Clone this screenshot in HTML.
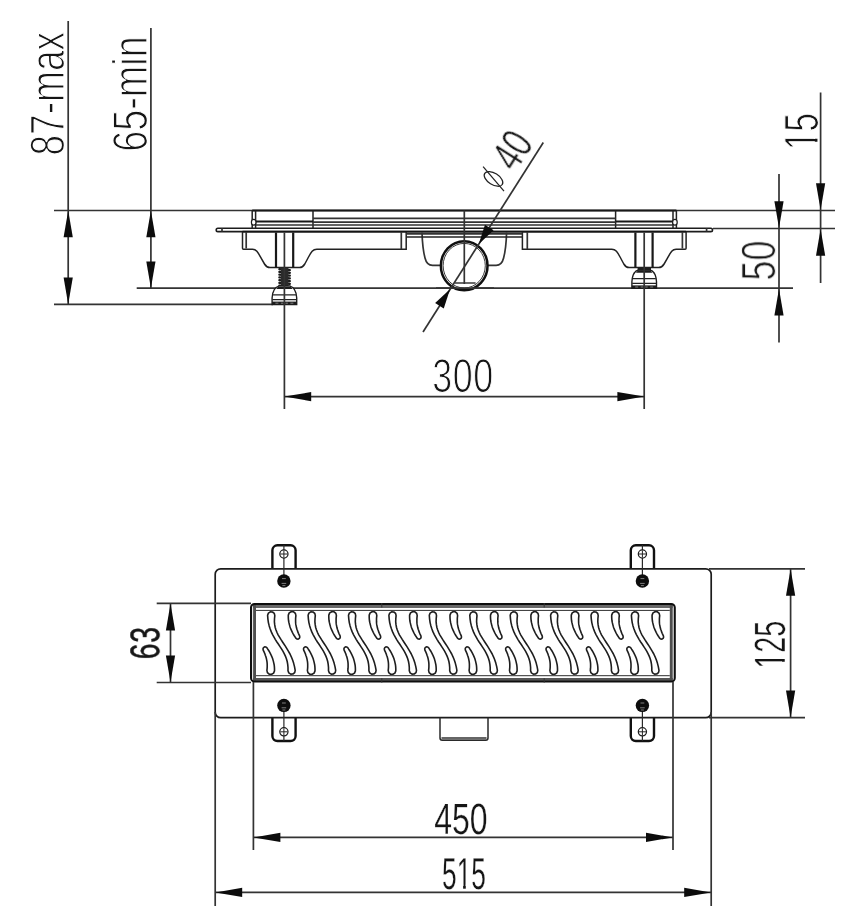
<!DOCTYPE html>
<html lang="en">
<head>
<meta charset="utf-8">
<title>Linear shower drain - dimensional drawing</title>
<style>
html,body{margin:0;padding:0;background:#fff;}
body{width:860px;height:918px;overflow:hidden;font-family:"Liberation Sans",sans-serif;}
svg{display:block;position:absolute;left:0;top:0;}
text{font-family:"Liberation Sans",sans-serif;fill:#151515;text-rendering:geometricPrecision;}
.t{stroke:#333;stroke-width:1.7;fill:none;}
.m{stroke:#222;stroke-width:1.5;fill:none;}
.k{stroke:#181818;stroke-width:2;fill:none;}
.ar{fill:#0c0c0c;}
.lt{stroke:#fff;stroke-linejoin:round;}
</style>
</head>
<body>
<svg width="860" height="918" viewBox="0 0 860 918">
<defs>
  <!-- arrow head: tip at origin, pointing up (body extends downward) -->
  <path id="ah" d="M0,0 L4.6,26.8 L-4.6,26.8 Z"/>
  <path id="ah2" d="M0,0 L5.1,19.7 L-5.1,19.7 Z"/>
  <!-- one period of the grate pattern -->
  <g id="per" transform="translate(271.3,0)">
    <path d="M3.6,615.6 L3.1,613.4 L1.3,612.0 L-0.9,611.9 L-2.8,613.1 L-3.6,615.2 L-3.3,619.1 L-2.8,622.6 L-2.0,625.9 L-1.0,629.0 L0.1,631.9 L1.4,634.6 L2.8,637.1 L4.2,639.6 L5.7,642.0 L7.3,644.3 L8.8,646.6 L10.3,648.9 L11.7,651.2 L13.0,653.6 L14.2,656.1 L15.2,658.7 L16.0,661.5 L16.5,664.4 L16.8,667.5 L16.8,670.8 L17.6,672.9 L19.5,674.1 L21.7,674.0 L23.5,672.6 L24.0,670.4 L23.3,666.6 L22.4,663.1 L21.3,659.8 L20.1,656.8 L18.8,654.0 L17.3,651.3 L15.8,648.8 L14.3,646.4 L12.7,644.0 L11.2,641.7 L9.7,639.4 L8.3,637.1 L6.9,634.8 L5.8,632.5 L4.8,630.0 L4.0,627.5 L3.5,624.7 L3.2,621.9 L3.3,618.8 L3.6,615.6Z"/>
    <path d="M24.7,615.7 L24.2,613.4 L22.4,611.8 L20.0,611.7 L18.0,612.9 L17.1,615.1 L17.1,617.1 L17.2,619.1 L17.4,621.0 L17.8,622.9 L18.2,624.6 L18.7,626.4 L19.2,628.0 L19.9,629.6 L20.6,631.2 L21.3,632.6 L22.1,634.1 L22.9,635.5 L23.8,636.8 L24.6,638.1 L25.6,639.0 L27.0,639.1 L28.1,638.4 L28.6,637.2 L28.4,635.9 L27.8,634.6 L27.2,633.3 L26.6,631.9 L26.2,630.5 L25.7,629.2 L25.3,627.8 L25.0,626.3 L24.7,624.9 L24.5,623.4 L24.4,621.9 L24.4,620.4 L24.4,618.9 L24.5,617.3 L24.7,615.7Z"/>
    <path d="M-4.3,670.3 L-3.8,672.6 L-2.0,674.2 L0.4,674.3 L2.4,673.1 L3.3,670.9 L3.3,668.9 L3.2,666.9 L3.0,665.0 L2.6,663.1 L2.2,661.4 L1.7,659.6 L1.2,658.0 L0.5,656.4 L-0.2,654.8 L-0.9,653.4 L-1.7,651.9 L-2.5,650.5 L-3.4,649.2 L-4.2,647.9 L-5.2,647.0 L-6.6,646.9 L-7.7,647.6 L-8.2,648.8 L-8.0,650.1 L-7.4,651.4 L-6.8,652.7 L-6.2,654.1 L-5.8,655.5 L-5.3,656.8 L-4.9,658.2 L-4.6,659.7 L-4.3,661.1 L-4.1,662.6 L-4.0,664.1 L-4.0,665.6 L-4.0,667.1 L-4.1,668.7 L-4.3,670.3Z"/>
  </g>
  <!-- levelling foot (side view), centred on x=0, bottom at y=0 -->
  <g id="foot">
    <path d="M-5.6,-18.4 L5.6,-18.4 C9.5,-17.4 12,-12.5 12.3,-6.5 L12.3,0 L-12.3,0 L-12.3,-6.5 C-12,-12.5 -9.5,-17.4 -5.6,-18.4 Z" fill="#fff" stroke="#1c1c1c" stroke-width="1.4"/>
    <path d="M-6.5,-17.6 L6.5,-17.6 L8.3,-15.6 L-8.3,-15.6 Z" fill="#1c1c1c"/>
    <path d="M-11.6,-9.6 H11.6 M-12,-4.9 H12" stroke="#222" stroke-width="1.2"/>
    <rect x="-12.3" y="-2.9" width="24.6" height="2.9" fill="#1c1c1c"/>
    <path d="M-9,-1.3 H-6 M-3.5,-1.3 H-1 M1,-1.3 H3.5 M6,-1.3 H9" stroke="#999" stroke-width="0.8"/>
  </g>
  <!-- left half of drain body (side view) -->
  <g id="half">
    <!-- body outline -->
    <path class="m" d="M242.5,232 V248.2 Q242.5,249.2 243.5,249.2 H252.5 C256.5,249.2 258,252.5 261,258 L264.5,264 C266,266.5 267.5,267.5 270,267.5 H299.5 C302,267.5 303.3,266.5 304.8,264 L308,258 C311,252.5 312.5,249.2 316.8,249.2 H406.2 V232"/>
    <path class="t" d="M246.2,232 V248.6 M401.3,232 V249"/>
    <!-- leg -->
    <path d="M276,232.6 V267.5 M293.2,232.6 V267.5" stroke="#181818" stroke-width="2.2" fill="none"/>
    <!-- sump -->
    <path class="t" d="M422,232.5 C422.4,245 423.4,252 425,258 C426.2,263 428,265.3 432.5,265.3 H441.5"/>
    <!-- grate end block -->
    <path class="m" d="M252.2,210.5 V228.2 M255.6,210.5 V228.2 M313,210.5 V228.2"/>
    
    <path class="k" d="M255.6,221.4 H313"/>
    <path class="t" d="M255.6,225 H313" stroke-width="1.3"/>
    <ellipse cx="253.7" cy="222.2" rx="2.3" ry="2.9" fill="#fff" stroke="#1c1c1c" stroke-width="1.2"/>
    <!-- grate bars running to the centre -->
    <path class="t" d="M313,218.4 H464.3 M313,222.1 H464.3 M313,225 H464.3" stroke-width="1.3"/>
    <!-- channel under flange -->
    <path class="t" d="M406.2,233.8 H464.3"/>
    <path class="m" d="M406.2,237 H464.3"/>
  </g>
</defs>

<rect x="0" y="0" width="860" height="918" fill="#fff"/>

<!-- ================= TEXT (drawn first, lines go on top) ================= -->
<g id="labels" style="opacity:0.999">
  <text class="lt" stroke-width="1.3" font-size="48.5" transform="translate(64.2,155.5) rotate(-90) scale(0.764,1)">87-max</text>
  <text class="lt" stroke-width="1.3" font-size="49" transform="translate(147.1,151.8) rotate(-90) scale(0.771,1)">65-min</text>
  <text class="lt" stroke-width="1" font-size="48.2" transform="translate(818.1,150) rotate(-90) scale(0.686,1)">15</text>
  <path fill="#fff" transform="translate(818.1,150) rotate(-90) scale(0.686,1)" d="M2.41,-4.24 H12.15 V0.96 H2.41 Z M16.29,-4.24 H25.55 V0.96 H16.29 Z"/>
  <text class="lt" stroke-width="1" font-size="48.2" transform="translate(775.1,280.6) rotate(-90) scale(0.745,1)">50</text>
  <text class="lt" stroke-width="1.1" font-size="47.3" transform="translate(463,392.3) scale(0.758,1)" text-anchor="middle" letter-spacing="0.7">300</text>
  <text stroke="#151515" stroke-width="0.5" font-size="41.2" transform="translate(159.1,642.8) rotate(-90) scale(0.69,1)" text-anchor="middle" letter-spacing="1">63</text>
  <text class="lt" stroke-width="0.4" font-size="43.8" transform="translate(784.9,644.8) rotate(-90) scale(0.657,1)" text-anchor="middle">125</text>
  <path fill="#fff" transform="translate(784.9,644.8) rotate(-90) scale(0.657,1)" d="M-34.34,-3.85 H-25.79 V0.88 H-34.34 Z M-21.43,-3.85 H-13.32 V0.88 H-21.43 Z"/>
  <text class="lt" stroke-width="0.3" font-size="43.8" transform="translate(460.8,834.3) scale(0.73,1)" text-anchor="middle">450</text>
  <text class="lt" stroke-width="0.3" font-size="44.8" transform="translate(464,888.8) scale(0.587,1)" text-anchor="middle">515</text>
  <path fill="#fff" transform="translate(464,888.8) scale(0.587,1)" d="M-10.21,-3.94 H-1.51 V0.90 H-10.21 Z M3.03,-3.94 H11.29 V0.90 H3.03 Z"/>
  <text class="lt" stroke-width="0.6" font-size="44" transform="translate(515.3,173.1) rotate(-57.6) scale(0.73,1)">40</text>
</g>

<!-- ================= SIDE VIEW ================= -->
<g id="side">
  <!-- reference / extension lines -->
  <path class="t" d="M54,210.5 H835 M713,228.5 H835 M136.7,288.2 H793 M54,304.3 H273"/>
  <!-- flange plate -->
  <rect x="216.2" y="228.2" width="496.3" height="3.4" rx="1.7" fill="#fff" stroke="#1c1c1c" stroke-width="1.6"/>
  <path class="t" d="M222,228.2 V231.6 M706.6,228.2 V231.6" stroke-width="1.1"/>
  <path d="M242.5,231.6 H686.1" stroke="#141414" stroke-width="1.9" fill="none"/>
  <!-- grate top / bottom -->
  <path class="k" d="M252.2,210.6 H676.4" stroke-width="1.7"/>
  <!-- halves -->
  <use href="#half"/>
  <use href="#half" transform="translate(928.6,0) scale(-1,1)"/>
  <!-- threaded rod on left leg -->
  <path d="M279.4,269.2 L289.8,270.2 M279.4,271.9 L289.8,272.9 M279.4,274.7 L289.8,275.7 M279.4,277.4 L289.8,278.4 M279.4,280.2 L289.8,281.2 M279.4,282.9 L289.8,283.9 M279.4,285.7 L289.8,286.7" stroke="#1a1a1a" stroke-width="2.3" stroke-linecap="round"/>
  <rect x="281" y="268" width="7.4" height="19" fill="#2a2a2a"/>
  <!-- feet -->
  <use href="#foot" transform="translate(284.4,304.5)"/>
  <use href="#foot" transform="translate(644.2,288.3)"/>
  <rect x="637.6" y="267.6" width="13.4" height="3.2" fill="#1c1c1c"/>
  <!-- leg centre lines -->
  <path class="t" d="M284.4,232.6 V409 M644.2,232.6 V409" stroke-width="1"/>
  <!-- pipe -->
  <ellipse cx="464.2" cy="265.7" rx="23.3" ry="24.55" fill="#fff" stroke="#101010" stroke-width="2.5"/>
  <ellipse cx="464.2" cy="265.7" rx="21.1" ry="22.3" fill="none" stroke="#222" stroke-width="0.9"/>
  <path d="M454.7,283 H475.6" stroke="#5a5a5a" stroke-width="1.8"/>
  <path class="t" d="M464.3,210.5 V284"/>
  <!-- 65-min base line passes in front of pipe -->
  <path class="t" d="M436,288.2 H494"/>
</g>

<!-- ================= SIDE VIEW DIMENSIONS ================= -->
<g id="sidedims">
  <path class="t" d="M68.2,21 V304.3 M150.9,28 V288.2 M820.6,92.4 V283 M779,174 V342.6"/>
  <use href="#ah" class="ar" transform="translate(68.2,210.5)"/>
  <use href="#ah" class="ar" transform="translate(68.2,304.3) rotate(180)"/>
  <use href="#ah" class="ar" transform="translate(150.9,210.5)"/>
  <use href="#ah" class="ar" transform="translate(150.9,288.2) rotate(180)"/>
  <use href="#ah" class="ar" transform="translate(820.6,210) rotate(180)"/>
  <use href="#ah" class="ar" transform="translate(820.6,229)"/>
  <use href="#ah" class="ar" transform="translate(779,228) rotate(180)"/>
  <use href="#ah" class="ar" transform="translate(779,288.7)"/>
  <!-- 300 -->
  <path class="t" d="M284.4,396.6 H644.2"/>
  <use href="#ah" class="ar" transform="translate(284.4,396.6) rotate(-90)"/>
  <use href="#ah" class="ar" transform="translate(644.2,396.6) rotate(90)"/>
  <!-- diameter 40 -->
  <path class="t" d="M423,332 L543.3,142.5"/>
  <g id="diameter-symbol"><title>&#216;</title><ellipse cx="493.5" cy="178.9" rx="10.4" ry="5.7" transform="rotate(32.4 493.5 178.9)" fill="none" stroke="#222" stroke-width="1.25"/><path d="M483.1,166.6 L504,191.2" stroke="#222" stroke-width="1.25"/></g>
  <use href="#ah2" class="ar" transform="translate(478.7,244.2) rotate(-147.6)"/>
  <use href="#ah2" class="ar" transform="translate(450,289.2) rotate(32.4)"/>
</g>

<!-- ================= PLAN VIEW ================= -->
<g id="plan">
  <!-- brackets -->
  <path d="M272.4,568.7 V550.3 a5,5 0 0 1 5,-5 H290.6 a5,5 0 0 1 5,5 V568.7" fill="none" stroke="#111" stroke-width="2.4"/>
  <path d="M272.4,717.6 V736 a5,5 0 0 0 5,5 H290.6 a5,5 0 0 0 5,-5 V717.6" fill="none" stroke="#111" stroke-width="2.4"/>
  <path d="M630.8,568.7 V550.3 a5,5 0 0 1 5,-5 H649 a5,5 0 0 1 5,5 V568.7" fill="none" stroke="#111" stroke-width="2.4"/>
  <path d="M630.8,717.6 V736 a5,5 0 0 0 5,5 H649 a5,5 0 0 0 5,-5 V717.6" fill="none" stroke="#111" stroke-width="2.4"/>
  <!-- plate -->
  <rect x="215.2" y="568.8" width="496" height="148.9" rx="5.5" fill="none" stroke="#1c1c1c" stroke-width="1.7"/>
  <!-- outlet -->
  <path d="M440,717.6 V738 a2.2,2.2 0 0 0 2.2,2.2 H485.8 a2.2,2.2 0 0 0 2.2,-2.2 V717.6" fill="none" stroke="#2a2a2a" stroke-width="1.5"/>
  <path d="M441.5,738.4 H486.5" stroke="#666" stroke-width="2.6"/>
  <!-- grate frame -->
  <rect x="251" y="604" width="423.8" height="77.6" rx="3.6" fill="#fff"/>
  <rect x="252" y="604.8" width="421.8" height="3.2" fill="#686868"/>
  <rect x="252" y="678" width="421.8" height="2.9" fill="#555"/>
  <rect x="251.8" y="604.8" width="1.3" height="76" fill="#e4e4e4"/>
  <rect x="672.7" y="604.8" width="1.3" height="76" fill="#e4e4e4"/>
  <rect x="253.1" y="604.8" width="2.9" height="76" fill="#4e4e4e"/>
  <rect x="669.8" y="604.8" width="2.9" height="76" fill="#4e4e4e"/>
  <path d="M256,610.4 H669.8 M256,675.7 H669.8" stroke="#2e2e2e" stroke-width="1" fill="none"/>
  <rect x="251" y="604" width="423.8" height="77.6" rx="3.6" fill="none" stroke="#0e0e0e" stroke-width="2"/>
  <path d="M381.8,603 V607.5 M544.2,603 V607.5 M381.8,678.2 V682.6 M544.2,678.2 V682.6" stroke="#333" stroke-width="1"/>
  <!-- slots -->
  <g fill="#fff" stroke="#1e1e1e" stroke-width="1.6" stroke-linejoin="round"><use href="#per" x="-0.1"/><use href="#per" x="40.4"/><use href="#per" x="80.8"/><use href="#per" x="121.2"/><use href="#per" x="161.6"/><use href="#per" x="202.1"/><use href="#per" x="242.5"/><use href="#per" x="282.9"/><use href="#per" x="323.3"/><use href="#per" x="363.7"/></g>
  <!-- bracket holes, screws -->
  <g id="fix">
    <path d="M283.9,545 V581 M283.9,705 V741 M642.4,545 V581 M642.4,705 V741" stroke="#2a2a2a" stroke-width="1.2" fill="none"/>
    <g fill="#fff" stroke="#1c1c1c" stroke-width="1.25">
      <circle cx="283.9" cy="554" r="4.1"/><circle cx="283.9" cy="731.8" r="4.1"/>
      <circle cx="642.4" cy="554" r="4.1"/><circle cx="642.4" cy="731.8" r="4.1"/>
    </g>
    <path d="M280.4,554 H287.4 M283.9,550.5 V557.5 M280.4,731.8 H287.4 M283.9,728.3 V735.3 M638.9,554 H645.9 M642.4,550.5 V557.5 M638.9,731.8 H645.9 M642.4,728.3 V735.3" stroke="#222" stroke-width="1"/>
    <g fill="#0d0d0d">
      <circle cx="283.9" cy="581" r="6.7"/><circle cx="283.9" cy="705.4" r="6.7"/>
      <circle cx="642.4" cy="581" r="6.7"/><circle cx="642.4" cy="705.4" r="6.7"/>
    </g>
    <g stroke="#8a8a8a" stroke-width="0.9" fill="none">
      <path d="M282,578.6 H285.8 M281.6,583.4 H286.2 M282.4,585.6 H285.4"/>
      <path d="M282,703 H285.8 M281.6,707.8 H286.2 M282.4,710 H285.4"/>
      <path d="M640.5,578.6 H644.3 M640.1,583.4 H644.7 M640.9,585.6 H643.9"/>
      <path d="M640.5,703 H644.3 M640.1,707.8 H644.7 M640.9,710 H643.9"/>
    </g>
  </g>
</g>

<!-- ================= PLAN VIEW DIMENSIONS ================= -->
<g id="plandims">
  <!-- 63 -->
  <path class="t" d="M156.7,603.3 H251 M156.7,682.5 H251 M170.5,603.3 V682.5"/>
  <use href="#ah" class="ar" transform="translate(170.5,603.6)"/>
  <use href="#ah" class="ar" transform="translate(170.5,682.2) rotate(180)"/>
  <!-- 125 -->
  <path class="t" d="M709,568.8 H805 M709,717.7 H805 M790.6,568.8 V717.7"/>
  <use href="#ah" class="ar" transform="translate(790.6,569)"/>
  <use href="#ah" class="ar" transform="translate(790.6,717.4) rotate(180)"/>
  <!-- 450 -->
  <path class="t" d="M253.4,682 V850 M673,682 V850 M253.4,837.4 H673"/>
  <use href="#ah" class="ar" transform="translate(253.6,837.4) rotate(-90)"/>
  <use href="#ah" class="ar" transform="translate(672.8,837.4) rotate(90)"/>
  <!-- 515 -->
  <path class="t" d="M215.2,712 V906 M711.2,712 V906 M215.2,892.4 H711.2"/>
  <use href="#ah" class="ar" transform="translate(215.4,892.4) rotate(-90)"/>
  <use href="#ah" class="ar" transform="translate(711,892.4) rotate(90)"/>
</g>
</svg>
</body>
</html>
